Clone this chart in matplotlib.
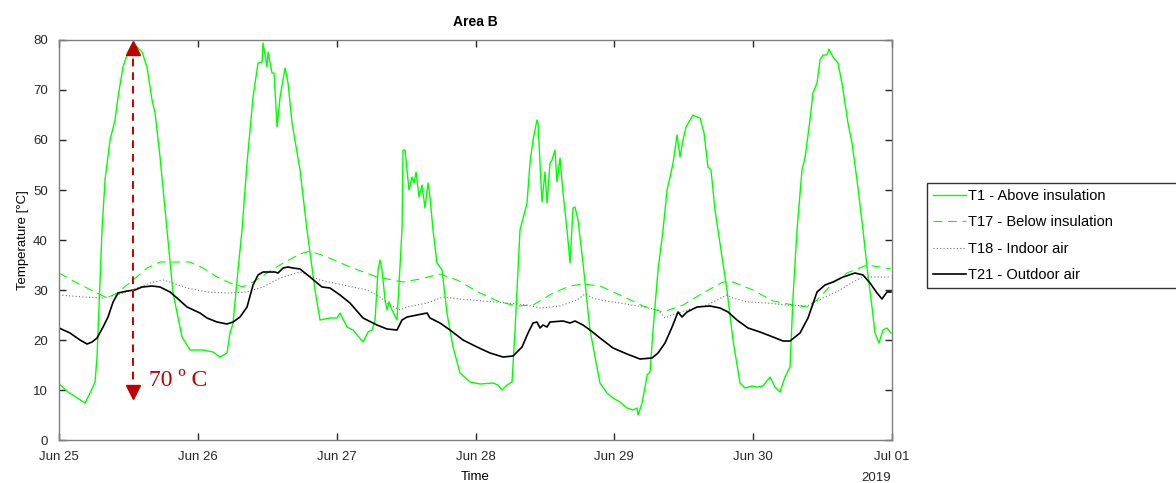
import pandas as pd
import matplotlib
matplotlib.use("Agg")
import matplotlib.pyplot as plt
import matplotlib.dates as mdates

# hours since 2019-06-25 00:00, temperature [°C]
t1 = [(0, 11.2), (1.56, 9.6), (4.5, 7.4), (5.36, 9.4), (6.22, 11.6), (6.57, 16.6),
      (7.43, 42), (7.95, 52), (8.82, 60), (9.68, 64), (10.2, 68.6), (11.06, 74.6),
      (11.93, 77.6), (12.79, 79.4), (14.35, 77.6), (15.21, 74.6), (16.08, 68),
      (16.6, 65.4), (17.46, 56.6), (18.67, 42), (19.71, 29.4), (21.26, 20.6),
      (22.65, 18), (24.89, 18), (26.62, 17.6), (27.83, 16.6), (29.04, 17.4),
      (29.56, 21.4), (30.08, 23.4), (30.94, 34), (31.63, 42), (32.5, 55.4),
      (33.54, 68.6), (34.4, 75.4), (35.09, 75.6), (35.27, 79.4), (35.96, 74.6),
      (36.13, 77.6), (36.82, 73.4), (37.17, 73.4), (37.69, 62.6), (38.21, 68.6),
      (39.07, 74.4), (39.59, 71.4), (40.28, 63.4), (41.66, 54), (42.87, 42),
      (44.25, 30), (45.12, 24), (46.85, 24.4), (48.06, 24.4), (48.58, 25.4),
      (49.79, 22.6), (50.82, 22), (52.55, 19.6), (53.42, 21.6), (54.11, 22),
      (54.63, 24), (55.15, 34), (55.49, 36), (55.84, 34), (56.36, 28), (56.7, 26),
      (57.05, 27.6), (57.57, 26), (58.43, 24), (59.29, 42), (59.47, 58), (59.81, 58),
      (60.5, 50), (61.02, 52.6), (61.37, 51.4), (61.72, 53.6), (62.23, 48.6),
      (62.75, 51), (63.27, 46.4), (63.79, 51.4), (64.13, 48.6), (64.65, 42),
      (65.34, 35.4), (66.21, 34), (67.07, 25.4), (68.11, 18.6), (69.32, 13.4),
      (71.05, 11.6), (72.78, 11.2), (75.03, 11.4), (75.89, 11), (76.58, 10),
      (77.45, 11), (78.31, 11.6), (78.83, 22), (79.69, 42), (80.9, 47.4),
      (81.42, 55.4), (81.94, 60), (82.63, 64), (82.8, 63.4), (83.49, 47.6),
      (84.01, 53.6), (84.36, 47.4), (84.88, 55.4), (85.22, 56), (85.74, 58),
      (86.09, 51.6), (86.61, 56.4), (87.13, 49.4), (87.82, 42), (88.34, 35.4),
      (88.86, 46.4), (89.2, 46.6), (89.72, 44), (90.58, 35.4), (91.79, 22),
      (93.52, 11.4), (94.73, 9.4), (95.77, 8.4), (96.98, 7.6), (98.19, 6.4),
      (99.23, 6), (99.92, 6.4), (100.1, 5), (100.79, 7.4), (101.31, 10.6),
      (101.66, 13), (102.17, 13.6), (102.69, 22), (103.55, 34), (104.42, 42),
      (105.11, 50), (105.63, 52.6), (106.15, 55.4), (106.84, 61), (107.36, 56.6),
      (107.87, 60), (108.39, 62.6), (108.91, 63.6), (109.6, 65), (110.29, 64.6),
      (110.81, 64.4), (111.5, 61.4), (112.19, 54.6), (112.71, 54), (113.4, 46),
      (113.92, 42), (115.47, 30), (116.51, 20), (117.72, 11.4), (118.59, 10.4),
      (119.8, 10.8), (120.66, 10.6), (121.7, 10.8), (122.91, 12.6), (123.77, 10.6),
      (124.64, 9.6), (125.5, 12.6), (126.37, 14.6), (126.89, 28.6), (127.58, 42),
      (128.44, 54), (128.96, 56.4), (129.82, 64), (130.34, 69.4), (131.04, 71.4),
      (131.56, 76), (132.07, 77), (132.76, 77), (133.11, 78.2), (133.8, 76.6),
      (134.66, 75.4), (135.35, 71.4), (135.88, 67.4), (136.39, 63.4), (137.09, 59.4),
      (137.95, 52), (138.99, 42), (139.68, 34.6), (140.54, 26.6), (141.06, 21.4),
      (141.75, 19.4), (142.44, 22), (143.13, 22.4), (143.83, 21.4)]

t17 = [(0, 33.4), (3.11, 31.4), (6.57, 29.4), (8.3, 28.4), (10.03, 29.4),
       (12.79, 32), (15.21, 34.4), (17.46, 35.6), (20.4, 35.6), (22.65, 35.6),
       (24.89, 34.4), (27.31, 32.6), (29.56, 31.4), (31.8, 30.6), (33.54, 31.6),
       (35.96, 33.4), (38.73, 35.4), (41.66, 37.2), (43.39, 37.8), (46.33, 36.6),
       (50.3, 34.6), (54.97, 32.6), (59.47, 31.6), (62.41, 32.2), (65.86, 33.2),
       (68.8, 32), (72.78, 29.4), (76.23, 27.6), (79.17, 26.8), (81.94, 27),
       (85.4, 29.4), (88.34, 30.8), (90.58, 31.2), (93.52, 30.8), (96.98, 29),
       (100.96, 26.8), (104.42, 25.6), (107.87, 27), (111.33, 29.4), (114.78, 31.6),
       (116.51, 31.6), (119.97, 30), (123.43, 27.8), (126.89, 27), (129.3, 26.6),
       (131.04, 28), (133.8, 31.4), (136.22, 33.4), (139.68, 35), (141.92, 34.6),
       (143.83, 34.2)]

t18 = [(0, 29), (4.15, 28.6), (7.61, 28.4), (10.55, 29.2), (13.48, 30.4),
       (15.73, 31.4), (17.98, 32), (19.71, 31.4), (22.13, 30.4), (25.58, 29.6),
       (29.04, 29.4), (32.5, 29.6), (35.27, 30.6), (38.21, 32.4), (41.66, 33.6),
       (45.12, 32), (49.1, 31), (53.25, 30), (55.49, 28.6), (57.22, 27),
       (58.95, 26), (60.16, 26.6), (63.62, 27.4), (66.38, 28.6), (69.32, 28.2),
       (73.3, 27.8), (77.45, 27.4), (80.9, 27), (83.15, 26.4), (86.61, 26.8),
       (89.55, 28), (90.93, 29.2), (92.31, 28.4), (93.52, 28), (96.98, 27.4),
       (100.96, 26.6), (103.55, 26), (104.76, 24.4), (105.98, 25), (108.56, 26),
       (112.02, 27), (113.75, 28), (115.47, 29), (116.51, 28.4), (118.93, 27.6),
       (122.39, 27.4), (125.85, 27), (129.3, 26.8), (132.07, 28.4), (135.01, 30),
       (137.26, 31.6), (138.99, 32.6), (141.41, 32.6), (143.83, 32.6)]

t21 = [(0, 22.4), (1.9, 21.4), (3.63, 20), (4.84, 19.2), (5.71, 19.6), (6.57, 20.4),
       (7.61, 22.6), (8.47, 24.6), (9.34, 27.6), (10.2, 29.4), (11.76, 29.8),
       (13.14, 30), (14.35, 30.6), (16.08, 30.8), (17.46, 30.6), (19.19, 29.6),
       (20.4, 28.4), (22.13, 26.6), (24.37, 25.4), (25.58, 24.4), (27.31, 23.6),
       (29.04, 23.2), (30.08, 23.6), (31.29, 24.6), (32.5, 26.6), (33.54, 31),
       (34.4, 33), (35.27, 33.6), (36.48, 33.6), (37.34, 33.6), (37.86, 33.4),
       (38.73, 34.4), (39.59, 34.6), (40.45, 34.4), (41.66, 34.2), (43.39, 32.6),
       (45.46, 30.6), (46.85, 30.4), (48.58, 29), (50.3, 27.4), (52.55, 24.4),
       (54.97, 23), (56.7, 22.2), (58.43, 22), (59.29, 24), (60.16, 24.6),
       (61.89, 25), (63.62, 25.4), (64.13, 24.4), (65.86, 23.4), (67.59, 22),
       (69.84, 20), (72.26, 18.6), (74.51, 17.4), (76.76, 16.6), (78.49, 16.8),
       (80.04, 18.6), (81.08, 21.4), (81.94, 23.4), (82.63, 23.6), (83.15, 22.4),
       (83.67, 23), (84.36, 22.6), (84.88, 23.6), (87.13, 23.8), (88.34, 23.4),
       (89.2, 23.8), (90.58, 23), (91.79, 22), (93.52, 20.4), (95.77, 18.4),
       (98.19, 17.2), (100.44, 16.2), (102.52, 16.4), (103.55, 17.4), (104.76, 19.4),
       (105.98, 22.6), (107.01, 25.6), (107.7, 24.6), (108.56, 25.6), (110.29, 26.6),
       (112.54, 26.8), (114.27, 26.4), (115.65, 25.6), (117.2, 24), (119.11, 22.4),
       (121.18, 21.6), (123.43, 20.6), (125.16, 19.8), (126.37, 19.8), (128.1, 21.4),
       (129.48, 24.4), (131.04, 29.6), (132.42, 31), (133.8, 31.6), (135.53, 32.6),
       (137.61, 33.4), (138.99, 33), (140.2, 31.4), (141.41, 29.4), (142.27, 28.2),
       (143.13, 29.6), (143.83, 29.6)]

start = pd.Timestamp("2019-06-25")


def to_series(pairs):
    hours = [p[0] for p in pairs]
    temps = [p[1] for p in pairs]
    return start + pd.to_timedelta(hours, unit="h"), temps


plt.rcParams['font.family'] = ['Liberation Sans', 'DejaVu Sans']

fig = plt.figure(figsize=(11.76, 4.83), dpi=100)
ax = fig.add_axes([0.0502, 0.089, 0.7083, 0.8282])

x, y = to_series(t1)
ax.plot(x, y, color='#00ff00', lw=1.0, label='T1 - Above insulation')
x, y = to_series(t17)
ax.plot(x, y, color='#00ff00', lw=0.8, ls=(0, (8, 5)), label='T17 - Below insulation')
x, y = to_series(t18)
ax.plot(x, y, color='#707070', lw=0.8, ls=(0, (1, 2)), label='T18 - Indoor air')
x, y = to_series(t21)
ax.plot(x, y, color='black', lw=1.2, label='T21 - Outdoor air')

# 70 degree span annotation
red = '#c00000'
xa = start + pd.Timedelta(hours=12.8)
ax.plot([xa, xa], [79, 9], color=red, lw=1.4, ls=(0, (4, 3)))
ax.plot([xa], [78.3], marker='^', ms=10, color=red, mec=red)
ax.plot([xa], [9.7], marker='v', ms=10, color=red, mec=red)
ax.text(start + pd.Timedelta(hours=15.5), 12, '70 º C', color=red,
        fontsize=17, family='Liberation Serif', va='center')

ax.set_xlim(start, start + pd.Timedelta(days=6))
ax.set_ylim(0, 80)
ax.set_yticks(range(0, 81, 10))
ax.xaxis.set_major_locator(mdates.DayLocator())
ax.xaxis.set_major_formatter(mdates.DateFormatter('%b %d'))
ax.tick_params(direction='in', top=True, right=True, length=5, width=1,
               labelsize=9.5, colors='#262626')
ax.tick_params(axis='x', pad=8)
ax.tick_params(axis='y', pad=8)
for s in ax.spines.values():
    s.set_color('#7f7f7f')
    s.set_linewidth(1)

ax.set_title('Area B', fontsize=10, fontweight='bold', pad=10)
ax.set_xlabel('Time', fontsize=9.5, labelpad=6)
ax.set_ylabel('Temperature [°C]', fontsize=9.5, labelpad=3)
ax.text(0.999, -0.08, '2019', transform=ax.transAxes, ha='right', va='top',
        fontsize=9.5, color='#262626')

leg = fig.legend(loc='upper left', bbox_to_anchor=(0.788, 0.386, 0.26, 0.235),
                 mode='expand', fontsize=10.5, frameon=True, fancybox=False,
                 edgecolor='black', handlelength=2.3, handletextpad=0.1,
                 labelspacing=0.85, borderaxespad=0, borderpad=0.4)
leg.get_frame().set_linewidth(1)

fig.savefig('out.png', dpi=100)
